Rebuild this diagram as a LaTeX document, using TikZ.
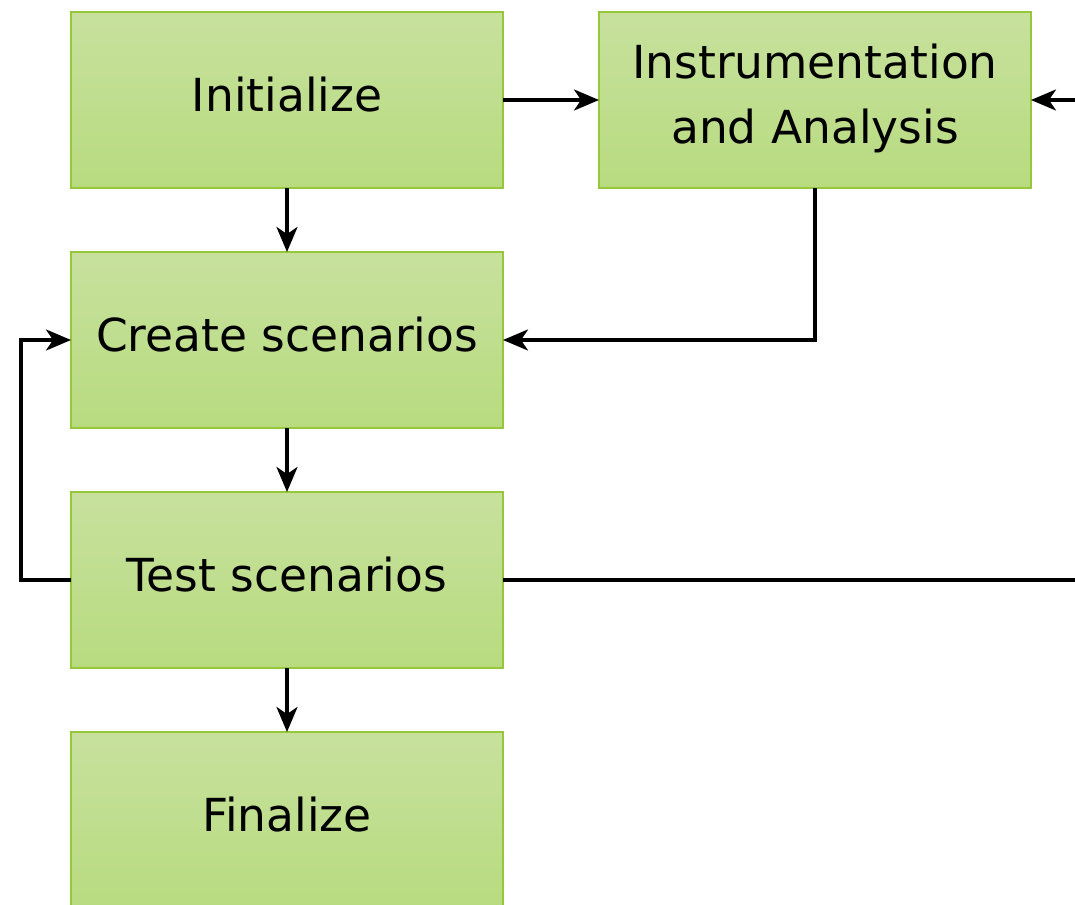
\documentclass[tikz,border=0pt]{standalone}
\usepackage{fontspec}
\setmainfont{DejaVu Sans}
\usetikzlibrary{positioning,arrows.meta}

\definecolor{boxtop}{RGB}{199,225,157}
\definecolor{boxbottom}{RGB}{184,219,128}
\definecolor{boxline}{RGB}{150,198,58}

\tikzset{
  stepbox/.style={draw=boxline, line width=1.5pt, top color=boxtop, bottom color=boxbottom,
    minimum width=432pt, minimum height=176pt, inner sep=0pt, outer sep=0pt, align=center,
    text height=34pt, text depth=11pt, font=\fontsize{45.5}{65}\selectfont},
  flow/.style={line width=3.2pt, -{Stealth[length=25pt, width=21pt, inset=7pt]}},
}

\begin{document}
\begin{tikzpicture}[x=1pt, y=-1pt, node distance=64pt]
\useasboundingbox (0,0) rectangle (1075,904);
\clip (0,0) rectangle (1075,904);

\node[stepbox] (init) at (287,100) {Initialize};
\node[stepbox, right=96pt of init, text height=99pt] (instr) {Instrumentation\\and Analysis};
\node[stepbox, below=of init] (create) {Create scenarios};
\node[stepbox, below=of create] (test) {Test scenarios};
\node[stepbox, below=of test] (final) {Finalize};

\draw[flow] (init) -- (create);
\draw[flow] (create) -- (test);
\draw[flow] (test) -- (final);
\draw[flow] (init) -- (instr);
\draw[flow] (instr.south) |- (create.east);
% back to the start of the loop
\draw[flow] (test.west) -- ++(-50,0) coordinate (backL) |- (create.west);
\draw[flow] (test.east) -- ++(600,0) coordinate (backR) |- (instr.east);
\end{tikzpicture}
\end{document}
